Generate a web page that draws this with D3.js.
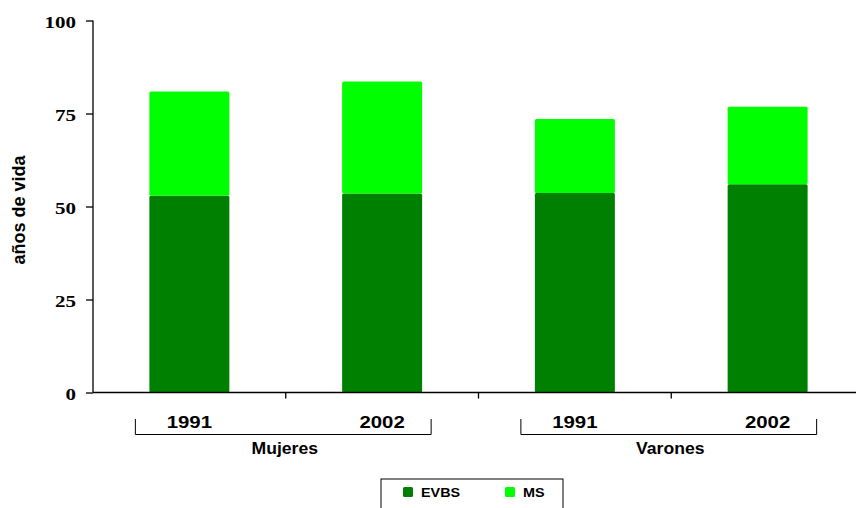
<!DOCTYPE html>
<html>
<head>
<meta charset="utf-8">
<script src="https://cdn.jsdelivr.net/npm/d3@7"></script>
<style>
  body { margin: 0; background: #fff; }
  svg { display: block; }
</style>
</head>
<body>
<svg id="chart" width="856" height="508"></svg>
<script>
// data
var groups = ["Mujeres", "Varones"];
var years = ["1991", "2002"];
var evbs = [52.9, 53.5, 53.6, 56.0];
var ms = [28.0, 30.1, 19.9, 20.8];
var yTicks = [0, 25, 50, 75, 100];
var seriesNames = ["EVBS", "MS"];
var seriesColors = ["#008000", "#00ff00"];

var svg = d3.select("#chart");
var plotLeft = 93, plotRight = 864, plotTop = 20.5, plotBottom = 392.5;
var stretch = 1.2; // text in the original is drawn a bit wide

var cats = [];
groups.forEach(function(g) {
    years.forEach(function(y) { cats.push(g + "|" + y); });
});
var rows = cats.map(function(c, i) {
    return { key: c, EVBS: evbs[i], MS: ms[i] };
});

var x = d3.scaleBand().domain(cats).range([plotLeft, plotRight]).paddingInner(0.585).paddingOuter(0.2925);
var xStep = (plotRight - plotLeft) / cats.length;
var y = d3.scaleLinear().domain([0, 100]).range([plotBottom, plotTop]);

var stack = d3.stack().keys(seriesNames)(rows);

svg.append("g").selectAll("g")
    .data(stack)
    .join("g")
    .attr("fill", function(d, i) { return seriesColors[i]; })
    .selectAll("rect")
    .data(function(d) { return d; })
    .join("rect")
    .attr("x", function(d) { return x(d.data.key); })
    .attr("width", x.bandwidth())
    .attr("y", function(d) { return y(d[1]); })
    .attr("height", function(d) { return y(d[0]) - y(d[1]); })
    .attr("rx", 1.5);

// y axis
var yAxis = svg.append("g")
    .attr("transform", "translate(" + plotLeft + ",0)")
    .call(d3.axisLeft(y).tickValues(yTicks).tickSize(7).tickPadding(10));
yAxis.select(".domain").attr("stroke", "#000").attr("stroke-width", 1.3).attr("d", "M0," + plotTop + "V" + plotBottom);
yAxis.selectAll(".tick line").attr("stroke", "#000").attr("stroke-width", 1.3);
yAxis.selectAll("text")
    .attr("x", -17 / stretch)
    .attr("dy", "0.42em")
    .attr("transform", "scale(" + stretch + ",1)")
    .attr("font-family", "'Liberation Serif', 'Times New Roman', serif")
    .attr("font-weight", "bold")
    .attr("font-size", 17.5)
    .attr("fill", "#000");

// x axis line with separator ticks
svg.append("line")
    .attr("x1", plotLeft).attr("x2", plotRight)
    .attr("y1", plotBottom).attr("y2", plotBottom)
    .attr("stroke", "#000").attr("stroke-width", 1.3);
svg.append("g").selectAll("line")
    .data(d3.range(1, cats.length))
    .join("line")
    .attr("x1", function(i) { return plotLeft + i * xStep; })
    .attr("x2", function(i) { return plotLeft + i * xStep; })
    .attr("y1", plotBottom).attr("y2", plotBottom + 6)
    .attr("stroke", "#000").attr("stroke-width", 1.3);

var sans = "'Liberation Sans', Arial, sans-serif";

function wideText(sel, px, py, s) {
    return sel.attr("transform", "translate(" + px + "," + py + ") scale(" + (s || stretch) + ",1)");
}

// year labels
svg.append("g").selectAll("text")
    .data(cats)
    .join("text")
    .attr("transform", function(c) {
        return "translate(" + (x(c) + x.bandwidth() / 2) + ",428) scale(" + stretch + ",1)";
    })
    .attr("text-anchor", "middle")
    .attr("font-family", sans)
    .attr("font-weight", "bold")
    .attr("font-size", 17)
    .text(function(c) { return c.split("|")[1]; });

// group brackets
groups.forEach(function(g, gi) {
    var c0 = x(g + "|" + years[0]) + x.bandwidth() / 2;
    var c1 = x(g + "|" + years[years.length - 1]) + x.bandwidth() / 2;
    var x0 = c0 - 54, x1 = c1 + 49;
    svg.append("path")
        .attr("d", "M" + x0 + ",419V434.5H" + x1 + "V419")
        .attr("fill", "none")
        .attr("stroke", "#000")
        .attr("stroke-width", 1);
    svg.append("text")
        .call(wideText, (c0 + c1) / 2 - 1, 454, 1.1)
        .attr("text-anchor", "middle")
        .attr("font-family", sans)
        .attr("font-weight", "bold")
        .attr("font-size", 16)
        .text(g);
});

// y axis title
svg.append("text")
    .attr("transform", "translate(25," + 210 + ") rotate(-90)")
    .attr("text-anchor", "middle")
    .attr("font-family", sans)
    .attr("font-weight", "bold")
    .attr("font-size", 18)
    .text("años de vida");

// legend
var legend = svg.append("g").attr("transform", "translate(381,479)");
legend.append("rect")
    .attr("x", 0).attr("y", 0).attr("width", 182).attr("height", 40)
    .attr("fill", "#fff").attr("stroke", "#000").attr("stroke-width", 1);
var items = legend.selectAll("g")
    .data(seriesNames)
    .join("g")
    .attr("transform", function(d, i) { return "translate(" + (22 + i * 102) + ",8)"; });
items.append("rect")
    .attr("width", 10).attr("height", 10).attr("rx", 1.5)
    .attr("fill", function(d, i) { return seriesColors[i]; });
items.append("text")
    .call(wideText, 18, 10)
    .attr("font-family", sans)
    .attr("font-weight", "bold")
    .attr("font-size", 12)
    .text(function(d) { return d; });
</script>
</body>
</html>
